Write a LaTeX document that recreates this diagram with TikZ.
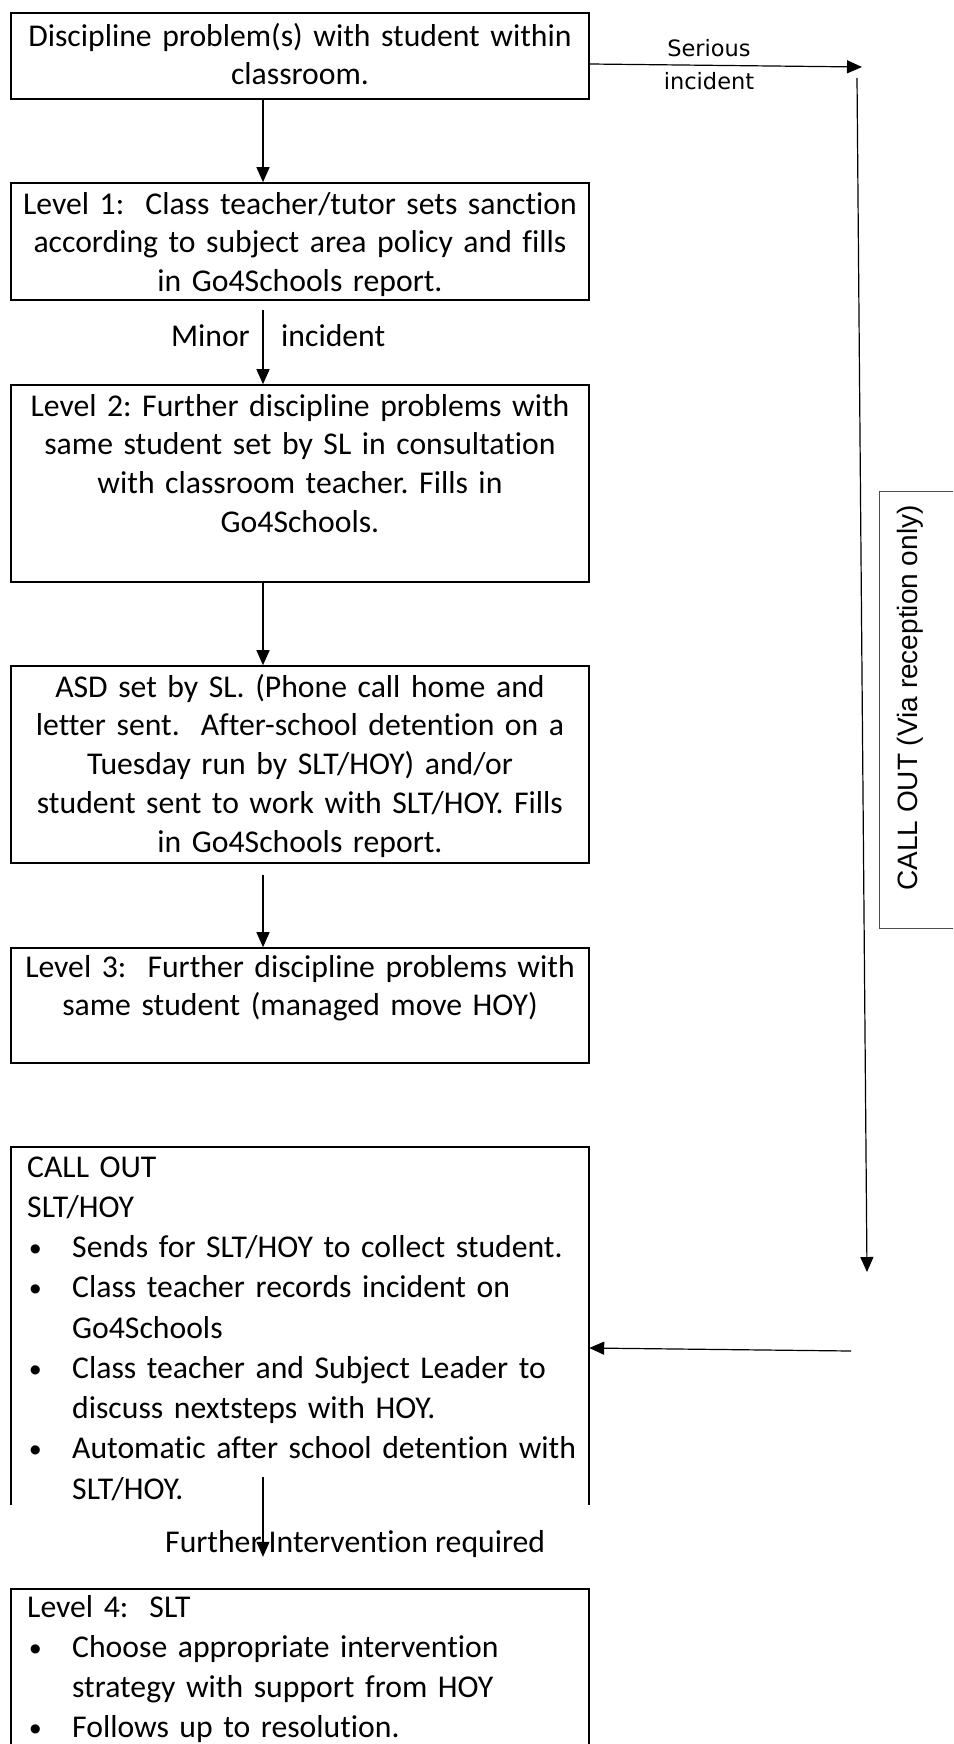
\documentclass[tikz,border=0pt]{standalone}
\usepackage{fontspec}
\setmainfont{Carlito}[Ligatures=NoCommon]
\newfontfamily\dejavu{DejaVu Sans}
\newfontfamily\libsans{Liberation Sans}
\usetikzlibrary{arrows.meta}
\setlength{\parindent}{0pt}
\frenchspacing
\newcommand{\bul}{\raisebox{5pt}{\dejavu\fontsize{12}{12}\selectfont ●}}
\newcommand{\fstrut}{\rule{0pt}{25pt}}
\newcommand{\bitem}{\makebox[45pt][l]{\hspace{3pt}\bul}}
\newcommand{\bcont}{\hspace*{45pt}}
\tikzset{
  box/.style={draw, line width=1.6pt, minimum width=578pt, inner sep=0pt},
  openbox/.style={draw=none, minimum width=578pt, inner sep=0pt},
  sides/.style={line width=1.6pt},
  txt/.style={inner sep=0pt, text width=570pt, align=center, font=\fontsize{31.7}{38.7}\selectfont},
  ltxt/.style={inner sep=0pt, text width=560pt, align=left, font=\fontsize{31.7}{40.25}\selectfont},
  lbl/.style={inner sep=0pt, font=\fontsize{31.7}{38.7}\selectfont},
  slbl/.style={inner sep=0pt, font=\dejavu\fontsize{22.5}{33}\selectfont},
  arr/.style={line width=1.2pt, -{Triangle[length=15pt,width=13pt]}}
}
\begin{document}
\begin{tikzpicture}[x=1pt,y=-1pt]
\useasboundingbox (0,0) rectangle (953,1744);
\fill[white] (0,0) rectangle (953,1744);
\coordinate (ax) at (263,0);

% boxes
\node[box, minimum height=86pt] (b1) at (300,56) {};
\node[txt, anchor=north] (b1t) at (300,21) {\fstrut Discipline problem(s) with student within\\ classroom.};

\node[box, minimum height=117pt] (l1) at (300,241.5) {};
\node[txt, anchor=north] (l1t) at (300,189) {\fstrut Level 1:\ \ Class teacher/tutor sets sanction\\ according to subject area policy and fills\\ in Go4Schools report.};

\node[box, minimum height=197pt] (l2) at (300,483.5) {};
\node[txt, anchor=north] (l2t) at (300,391) {\fstrut Level 2: Further discipline problems with\\ same student set by SL in consultation\\ with classroom teacher. Fills in\\ Go4Schools.};

\node[box, minimum height=197pt] (asd) at (300,764.5) {};
\node[txt, anchor=north] (asdt) at (300,672) {\fstrut ASD set by SL. (Phone call home and\\ letter sent.\ \ After-school detention on a\\ Tuesday run by SLT/HOY) and/or\\ student sent to work with SLT/HOY. Fills\\ in Go4Schools report.};

\node[box, minimum height=115pt] (l3) at (300,1005.5) {};
\node[txt, anchor=north] (l3t) at (300,952) {\fstrut Level 3:\ \ Further discipline problems with\\ same student (managed move HOY)};

% call out box (open at bottom)
\node[openbox, minimum height=358pt] (co) at (300,1326) {};
\draw[sides] (co.south west) -- (co.north west) -- (co.north east) -- (co.south east);
\node[ltxt, anchor=north west] (cot) at (27,1152) {\fstrut CALL OUT\\
SLT/HOY\\
\bitem Sends for SLT/HOY to collect student.\\
\bitem Class teacher records incident on\\
\bcont Go4Schools\\
\bitem Class teacher and Subject Leader to\\
\bcont discuss nextsteps with HOY.\\
\bitem Automatic after school detention with\\
\bcont SLT/HOY.};

% level 4 box (open at bottom)
\node[openbox, minimum height=155pt] (l4) at (300,1666.5) {};
\draw[sides] (l4.south west) -- (l4.north west) -- (l4.north east) -- (l4.south east);
\node[ltxt, anchor=north west] (l4t) at (27,1592) {\fstrut Level 4:\ \ SLT\\
\bitem Choose appropriate intervention\\
\bcont strategy with support from HOY\\
\bitem Follows up to resolution.};

% right side box "CALL OUT (Via reception only)"
\coordinate (vb1) at (953,491);
\coordinate (vb2) at (879,491);
\coordinate (vb3) at (879,928);
\coordinate (vb4) at (953,928);
\draw[line width=1pt, draw=black!70] (vb1) -- (vb2) -- (vb3) -- (vb4);
\node[inner sep=0pt, rotate=90, font=\libsans\fontsize{28}{32}\selectfont] (via) at (910,698) {CALL OUT (Via reception only)};

% connectors
\draw[arr] (b1.south -| ax) -- (l1.north -| ax);
\draw[arr] ([yshift=-9pt]l1.south -| ax) -- (l2.north -| ax);
\draw[arr] (l2.south -| ax) -- (asd.north -| ax);
\draw[arr] ([yshift=-11pt]asd.south -| ax) -- (l3.north -| ax);
\coordinate (fs) at (263,1477);
\draw[arr] (fs) -- ([yshift=32pt]l4.north -| ax);

\node[lbl, anchor=base east] (minor) at (250,346) {Minor};
\node[lbl, anchor=base west] (minc) at (281,346) {incident};
\node[lbl, anchor=base west] (furth) at (165,1552) {Further Intervention required};

% serious incident
\coordinate (s2) at (862,67);
\draw[arr] ([yshift=-8pt]b1.east) -- (s2);
\node[slbl, anchor=base] (ser) at (709,57) {Serious};
\node[slbl, anchor=base] (seri) at (709,90) {incident};
\coordinate (r1) at (857,78);
\coordinate (r2) at (867,1272);
\draw[arr] (r1) -- (r2);
\coordinate (h1) at (851,1351);
\draw[arr] (h1) -- ([yshift=-22pt]co.east);
\end{tikzpicture}
\end{document}
